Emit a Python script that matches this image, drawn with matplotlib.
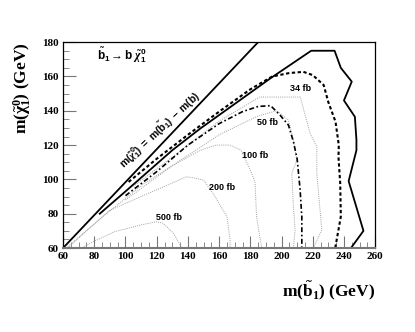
import matplotlib
matplotlib.use("Agg")
import matplotlib.pyplot as plt

plt.rcParams['mathtext.fontset'] = 'custom'
plt.rcParams['mathtext.rm'] = 'Liberation Serif:bold'
plt.rcParams['mathtext.bf'] = 'Liberation Serif:bold'
plt.rcParams['mathtext.it'] = 'Liberation Serif:italic:bold'
plt.rcParams['mathtext.sf'] = 'Liberation Sans:bold'

# kinematic limit m(chi) = m(b1) - m(b)
kin_x = [60, 185]
kin_y = [60, 180]

# outer solid contour
solid_x = [83.5, 100, 115, 130, 148, 170, 193, 219, 234, 238, 245, 240, 247, 248, 248, 243, 252.5, 244.5]
solid_y = [80, 93, 105, 117, 129.7, 144, 159, 175, 175, 165, 157, 146, 136.5, 123, 117, 99, 70, 60]

# bold dashed contour
dash_x = [102, 120, 140, 160, 180, 194, 205, 214, 220, 227, 230, 234.6, 236.7, 236.5, 237.6, 238, 234.4]
dash_y = [98.5, 112, 126, 139.5, 152.5, 160, 162, 162.7, 160.8, 155, 145, 133.6, 120, 113, 97.7, 78.3, 60]

# dash-dot contour
dd_x = [100, 120, 140, 160, 175, 185, 193, 199, 204.4, 207.6, 210, 211.9, 213, 213]
dd_y = [90.5, 104.5, 120, 132.5, 139.5, 142.5, 143, 137.5, 131.7, 122, 112, 94, 78, 60]

# grey cross-section contours
g34_x = [105, 130, 160, 186, 212, 218.3, 222.6, 222.6, 225.8, 220.4]
g34_y = [96, 113, 134, 148, 148, 126.8, 119, 103.5, 70.5, 60]
g50_x = [100, 130, 160, 185, 197, 204.4, 207.6, 209.8, 206.6, 207.6, 208.7, 207.6]
g50_y = [88, 108, 126, 137, 140, 134.6, 123, 111.3, 103.5, 84, 70.5, 60]
g100_x = [62, 85, 111, 130, 148, 158, 167, 174, 180, 183, 184, 186, 187.4]
g100_y = [60, 78, 97, 108, 117, 120, 120, 117, 105.5, 98.6, 78.3, 66.6, 60]
g200_x = [63, 75, 90, 115, 139, 143, 150, 156, 165, 167, 167]
g200_y = [60, 70, 82, 92, 101.5, 101, 99.6, 92, 78.3, 65, 60]
g500_x = [72, 80, 93, 110, 120, 124, 130.7, 135, 136]
g500_y = [60, 64, 69.5, 73.5, 75.3, 74.5, 68.6, 61.8, 60]

labels = ['34 fb', '50 fb', '100 fb', '200 fb', '500 fb']
label_x = [212, 191, 183, 162, 128]
label_y = [153, 133, 114, 95, 78]

fig = plt.figure(figsize=(4.15, 3.32), dpi=100)
ax = fig.add_axes([0.152, 0.253, 0.752, 0.62])

grey = '#a0a0a0'
for gx, gy in [(g34_x, g34_y), (g50_x, g50_y), (g100_x, g100_y), (g200_x, g200_y), (g500_x, g500_y)]:
    ax.plot(gx, gy, color=grey, lw=0.7, linestyle=(0, (1, 1.2)))

ax.plot(kin_x, kin_y, color='black', lw=1.3)
ax.plot(solid_x, solid_y, color='black', lw=1.3)
ax.plot(dash_x, dash_y, color='black', lw=1.5, linestyle=(0, (1.6, 1.2)))
ax.plot(dd_x, dd_y, color='black', lw=1.2, linestyle=(0, (3, 1.5, 1, 1.5)))

for t, lx, ly in zip(labels, label_x, label_y):
    ax.text(lx, ly, t, fontsize=6.5, fontweight='bold', family='Liberation Sans',
            ha='center', va='center')

ax.text(82, 172, r'$\tilde{\mathsf{b}}_\mathsf{1} \rightarrow \mathsf{b}\ \tilde{\chi}^\mathsf{0}_\mathsf{1}$',
        fontsize=8.5, ha='left', va='center')
ax.text(121.5, 129, r'$\mathsf{m(}\tilde{\chi}^\mathsf{0}_\mathsf{1}\mathsf{)\ =\ m(}\tilde{\mathsf{b}}_\mathsf{1}\mathsf{)\ -\ m(b)}$',
        fontsize=7.5, rotation=43, ha='center', va='center')

ax.set_xlim(60, 260)
ax.set_ylim(60, 180)
ax.set_xticks(range(60, 261, 20))
ax.set_yticks(range(60, 181, 20))
ax.set_xticks(range(60, 261, 5), minor=True)
ax.set_yticks(range(60, 181, 5), minor=True)
ax.tick_params(which='major', direction='in', length=9, width=0.8, color='#777777',
               labelsize=8, pad=3)
ax.tick_params(which='minor', direction='in', length=4.5, width=0.6, color='#777777')
for lab in ax.get_xticklabels() + ax.get_yticklabels():
    lab.set_family('Liberation Serif')
    lab.set_fontweight('bold')

for s in ['left', 'top', 'right']:
    ax.spines[s].set_linewidth(0.9)
ax.spines['bottom'].set_color('#777777')
ax.spines['bottom'].set_linewidth(1.5)

fig.text(0.904, 0.123, r'm($\mathbf{\tilde{b}_1}$) (GeV)', fontsize=12.5, fontweight='bold',
         family='Liberation Serif', ha='right', va='center')
fig.text(0.055, 0.873, r'm($\mathbf{\tilde{\chi}^0_1}$) (GeV)', fontsize=12.5, fontweight='bold',
         family='Liberation Serif', rotation=90, ha='center', va='top')

fig.savefig('out.png', dpi=100)
